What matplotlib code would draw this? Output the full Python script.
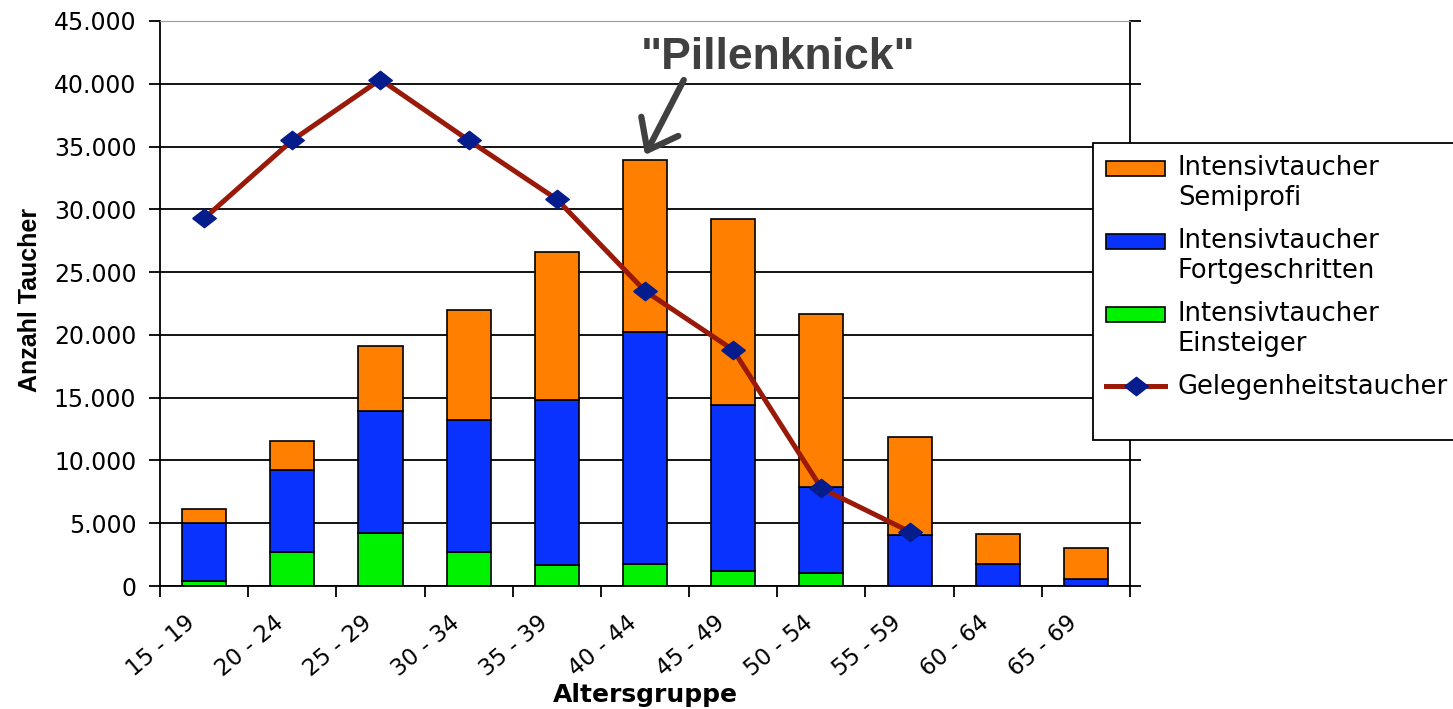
import matplotlib
matplotlib.use("Agg")
import matplotlib.pyplot as plt
import numpy as np
from matplotlib.patches import Rectangle
from matplotlib.lines import Line2D
from matplotlib.legend_handler import HandlerPatch
from matplotlib.transforms import ScaledTranslation
from matplotlib.ticker import FuncFormatter

plt.rcParams.update({"font.family": "DejaVu Sans", "font.size": 15})

# --- data ---
age_groups = ["15 - 19", "20 - 24", "25 - 29", "30 - 34", "35 - 39", "40 - 44",
              "45 - 49", "50 - 54", "55 - 59", "60 - 64", "65 - 69"]
einsteiger = [420, 2740, 4200, 2740, 1680, 1780, 1170, 1060, 0, 0, 0]
fortgeschritten = [4580, 6510, 9730, 10460, 13120, 18420, 13230, 6860, 4070, 1750, 560]
semiprofi = [1140, 2310, 5170, 8800, 11800, 13700, 14800, 13780, 7760, 2420, 2440]
gelegenheit = [29270, 35500, 40340, 35500, 30800, 23500, 18800, 7790, 4330]
yticks = [0, 5000, 10000, 15000, 20000, 25000, 30000, 35000, 40000, 45000]

ORANGE = "#FF8000"; BLUE = "#0A32FF"; GREEN = "#00F200"
LINE = "#9A1A0A"; MARKER = "#041C8C"; ARROW = "#404040"
diamond = [(-1, 0), (0, 0.78), (1, 0), (0, -0.78), (-1, 0)]

W, H = 1453, 709
fig = plt.figure(figsize=(W / 100, H / 100), dpi=100)
ax = fig.add_axes([160 / W, 1 - 586 / H, 970 / W, 565 / H])

x = np.arange(len(age_groups))
ein = np.array(einsteiger); fort = np.array(fortgeschritten); semi = np.array(semiprofi)
bw = 0.5
kw = dict(edgecolor="black", linewidth=1.2, zorder=2)
ax.bar(x, ein, bw, color=GREEN, **kw)
ax.bar(x, fort, bw, bottom=ein, color=BLUE, **kw)
ax.bar(x, semi, bw, bottom=ein + fort, color=ORANGE, **kw)
ax.plot(x[:len(gelegenheit)], gelegenheit, color=LINE, lw=3.6, marker=diamond, ms=17,
        mfc=MARKER, mec=MARKER, zorder=4)

# axes
ax.set_xlim(-0.5, len(age_groups) - 0.5)
ax.set_ylim(0, 45000)
ax.set_yticks(yticks)
ax.yaxis.set_major_formatter(FuncFormatter(lambda v, p: f"{v:,.0f}".replace(",", ".")))
ax.tick_params(axis="y", direction="out", length=8, width=1.3, right=True, pad=9, labelsize=17)
ax.set_xticks(x)
ax.set_xticklabels(age_groups, rotation=40, ha="right", va="top", rotation_mode="anchor")
ax.tick_params(axis="x", which="major", length=0, pad=18, labelsize=16.5)
ax.set_xticks(np.arange(-0.5, len(age_groups), 1), minor=True)
ax.tick_params(axis="x", which="minor", length=8, width=1.3, direction="out")
off = ScaledTranslation(-19 / 100, 0, fig.dpi_scale_trans)
for lab in ax.get_xticklabels():
    lab.set_transform(lab.get_transform() + off)

ax.set_axisbelow(True)
ax.grid(axis="y", color="black", lw=1.3)
ax.get_ygridlines()[-1].set_color("#9a9a9a")
for s in ["left", "bottom", "right"]:
    ax.spines[s].set_linewidth(1.3)
ax.spines["top"].set_color("#9a9a9a")

fig.text(30 / W, 1 - 300 / H, "Anzahl Taucher", rotation=90, ha="center", va="center",
         fontsize=18, fontweight="bold", family="Liberation Sans")
fig.text(645 / W, 1 - 695 / H, "Altersgruppe", ha="center", va="center",
         fontsize=18, fontweight="bold")

# annotation
ax.text(6.51, 42100, '"Pillenknick"', ha="center", va="center", fontsize=32,
        fontweight="bold", color=ARROW, family="Liberation Sans")
ax.annotate("", xy=(5, 34330), xytext=(5.44, 40300),
            arrowprops=dict(arrowstyle="->,head_length=1.3,head_width=1.0", color=ARROW,
                            lw=4.5, shrinkA=0, shrinkB=0, mutation_scale=15))


# legend (box extends past the right edge like the original)
def first_line_patch(legend, orig_handle, xdescent, ydescent, width, height, fontsize):
    # put the swatch next to the first line of a two-line label
    return Rectangle((-xdescent, -ydescent + 0.6 * fontsize), width, height)


fig.add_artist(Rectangle((1093 / W, 1 - 440 / H), 400 / W, 297 / H, transform=fig.transFigure,
                         facecolor="white", edgecolor="black", lw=1.3, zorder=4))
handles = [Rectangle((0, 0), 1, 1, fc=ORANGE, ec="black", lw=1.2),
           Rectangle((0, 0), 1, 1, fc=BLUE, ec="black", lw=1.2),
           Rectangle((0, 0), 1, 1, fc=GREEN, ec="black", lw=1.2),
           Line2D([], [], color=LINE, lw=3.6, marker=diamond, ms=17, mfc=MARKER, mec=MARKER)]
labels = ["Intensivtaucher\nSemiprofi", "Intensivtaucher\nFortgeschritten",
          "Intensivtaucher\nEinsteiger", "Gelegenheitstaucher"]
leg = fig.legend(handles, labels, loc="upper left", bbox_to_anchor=(1106 / W, 1 - 155 / H),
                 frameon=False, borderpad=0, borderaxespad=0, handlelength=2.3,
                 handleheight=0.5, handletextpad=0.5, labelspacing=0.66, fontsize=18.5,
                 handler_map={Rectangle: HandlerPatch(patch_func=first_line_patch)})
for t in leg.get_texts():
    t.set_linespacing(1.2)
leg.set_zorder(5)

fig.savefig("out.png", dpi=100)
